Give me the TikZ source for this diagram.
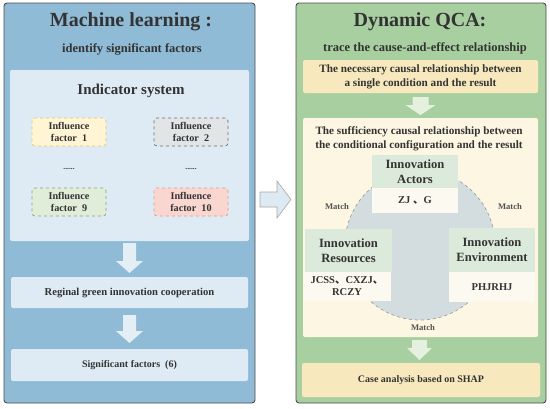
\documentclass[tikz,border=0pt]{standalone}
\usepackage{fontspec}
\setmainfont{Liberation Serif}
\newfontfamily\cjk{Noto Sans CJK SC}
\definecolor{txt}{HTML}{333333}
\definecolor{panelblue}{HTML}{8FBBD6}
\definecolor{iblue}{HTML}{DEEBF4}
\definecolor{panelgreen}{HTML}{A8CFA0}
\definecolor{ycream}{HTML}{F7E9BD}
\definecolor{lcream}{HTML}{FDF6E2}
\definecolor{hgreen}{HTML}{DCEADB}
\definecolor{wcream}{HTML}{FCFAF0}
\definecolor{circ}{HTML}{D3DCDF}
\definecolor{fonefill}{HTML}{FFF4D4}\definecolor{fonedraw}{HTML}{E5C56A}
\definecolor{ftwofill}{HTML}{E2E5E5}\definecolor{ftwodraw}{HTML}{6E7070}
\definecolor{fninefill}{HTML}{E0EDD8}\definecolor{fninedraw}{HTML}{8AA27E}
\definecolor{ftenfill}{HTML}{F9D6CF}\definecolor{ftendraw}{HTML}{E59A8B}
\definecolor{larrow}{HTML}{E4EEF5}
\definecolor{rarrow}{HTML}{E6F0DF}
\definecolor{marrow}{HTML}{DDEAF3}
\begin{document}
\begin{tikzpicture}[x=1pt,y=-1pt,
  every node/.style={text=txt, font=\bfseries, align=center, inner sep=0pt},
  panel/.style={draw=black!70, line width=0.9pt, rounded corners=3pt},
  ibox/.style={fill=iblue, rounded corners=2pt},
  fbox/.style={dashed, line width=0.7pt, rounded corners=3pt, minimum width=74pt, minimum height=28pt, font=\bfseries\fontsize{10.2}{12}\selectfont},
  hbox/.style={fill=hgreen, font=\bfseries\fontsize{12.6}{15}\selectfont},
  wbox/.style={fill=wcream, font=\bfseries\fontsize{10.5}{12}\selectfont},
  matchlbl/.style={font=\bfseries\fontsize{8.6}{10}\selectfont, text=txt!85},
  bodytext/.style={font=\bfseries\fontsize{11.2}{14}\selectfont}
]
\useasboundingbox (0,0) rectangle (550,408);
% ---------------- left panel
\node[panel, fill=panelblue, minimum width=251pt, minimum height=400pt] (lp) at (129.5,203) {};
\node[font=\bfseries\fontsize{20}{22}\selectfont] (lt) at (131,22) {Machine learning :};
\node[font=\bfseries\fontsize{12.5}{14}\selectfont] (ls) at (132,49) {identify significant factors};
\node[ibox, minimum width=239pt, minimum height=171pt] (ind) at (129.5,155.5) {};
\node[font=\bfseries\fontsize{15}{17}\selectfont] (indt) at (131,91) {Indicator system};
\node[fbox, fill=fonefill, draw=fonedraw] (f1) at (69,132) {Influence\\factor~ 1};
\node[fbox, fill=ftwofill, draw=ftwodraw] (f2) at (191,132) {Influence\\factor~ 2};
\node[fbox, fill=fninefill, draw=fninedraw] (f9) at (69,202) {Influence\\factor~ 9};
\node[fbox, fill=ftenfill, draw=ftendraw] (f10) at (191,202) {Influence\\factor~ 10};
\node[font=\bfseries\fontsize{7.5}{8}\selectfont] (d1) at (69,169) {......};
\node[font=\bfseries\fontsize{7.5}{8}\selectfont] (d2) at (191,169) {......};
% arrows left
\fill[larrow] (123,243) -- (136,243) -- (136,261) -- (143,261) -- (129.5,273) -- (116,261) -- (123,261) -- cycle;
\node[ibox, minimum width=237pt, minimum height=31pt, font=\bfseries\fontsize{10.6}{12}\selectfont] (reg) at (129.5,292.5) {Reginal green innovation cooperation};
\fill[larrow] (123,315) -- (136,315) -- (136,331) -- (143,331) -- (129.5,343) -- (116,331) -- (123,331) -- cycle;
\node[ibox, minimum width=237pt, minimum height=32pt, font=\bfseries\fontsize{10}{12}\selectfont] (sig) at (129.5,365) {Significant factors~ (6)};
% middle arrow
\draw[fill=marrow, draw=gray!70, line width=0.6pt] (260,192) -- (277,192) -- (277,181) -- (291,199.5) -- (277,218) -- (277,207) -- (260,207) -- cycle;
% ---------------- right panel
\node[panel, fill=panelgreen, minimum width=250pt, minimum height=400pt] (rp) at (421,203) {};
\node[font=\bfseries\fontsize{20}{22}\selectfont] (rt) at (420,22) {Dynamic QCA:};
\node[font=\bfseries\fontsize{12.5}{14}\selectfont] (rs) at (425,48) {trace the cause-and-effect relationship};
\node[fill=ycream, rounded corners=2pt, minimum width=235pt, minimum height=33pt, bodytext] (nec) at (420.5,76.5) {The necessary causal relationship between\\a single condition and the result};
\fill[rarrow] (412.5,97) -- (428.5,97) -- (428.5,105) -- (435.5,105) -- (420.5,115) -- (405.5,105) -- (412.5,105) -- cycle;
\node[fill=lcream, rounded corners=2pt, minimum width=235pt, minimum height=219pt] (suf) at (420.5,227.5) {};
\node[bodytext] (suft) at (419,139) {The sufficiency causal relationship between\\the conditional configuration and the result};
\draw[fill=circ, draw=gray!75, dashed, line width=0.7pt] (420,245) circle[radius=75];
\node[coordinate] (cc) at (420,245) {};
% actors
\node[hbox, minimum width=86pt, minimum height=33pt] (act) at (415,171.5) {Innovation\\Actors};
\node[wbox, minimum width=86pt, minimum height=25pt] (actv) at (415,200.5) {ZJ {\cjk 、}G};
% resources
\node[hbox, minimum width=87pt, minimum height=43pt] (res) at (348.5,250.5) {Innovation\\Resources};
\node[wbox, minimum width=87pt, minimum height=29pt] (resv) at (347,286.5) {JCSS{\cjk 、}CXZJ{\cjk 、}\\RCZY};
% environment
\node[hbox, minimum width=86pt, minimum height=44pt] (env) at (492,250) {Innovation\\Environment};
\node[wbox, minimum width=86pt, minimum height=30pt] (envv) at (492,287) {PHJRHJ};
% match labels
\node[matchlbl] (m1) at (337,207) {Match};
\node[matchlbl] (m2) at (510,207) {Match};
\node[matchlbl] (m3) at (423,328) {Match};
% arrow + case
\fill[rarrow] (412,340) -- (427,340) -- (427,348) -- (432,348) -- (419.5,360) -- (407,348) -- (412,348) -- cycle;
\node[fill=ycream, rounded corners=2pt, minimum width=238pt, minimum height=34pt, font=\bfseries\fontsize{10}{12}\selectfont] (case) at (421,380) {Case analysis based on SHAP};
\end{tikzpicture}
\end{document}
